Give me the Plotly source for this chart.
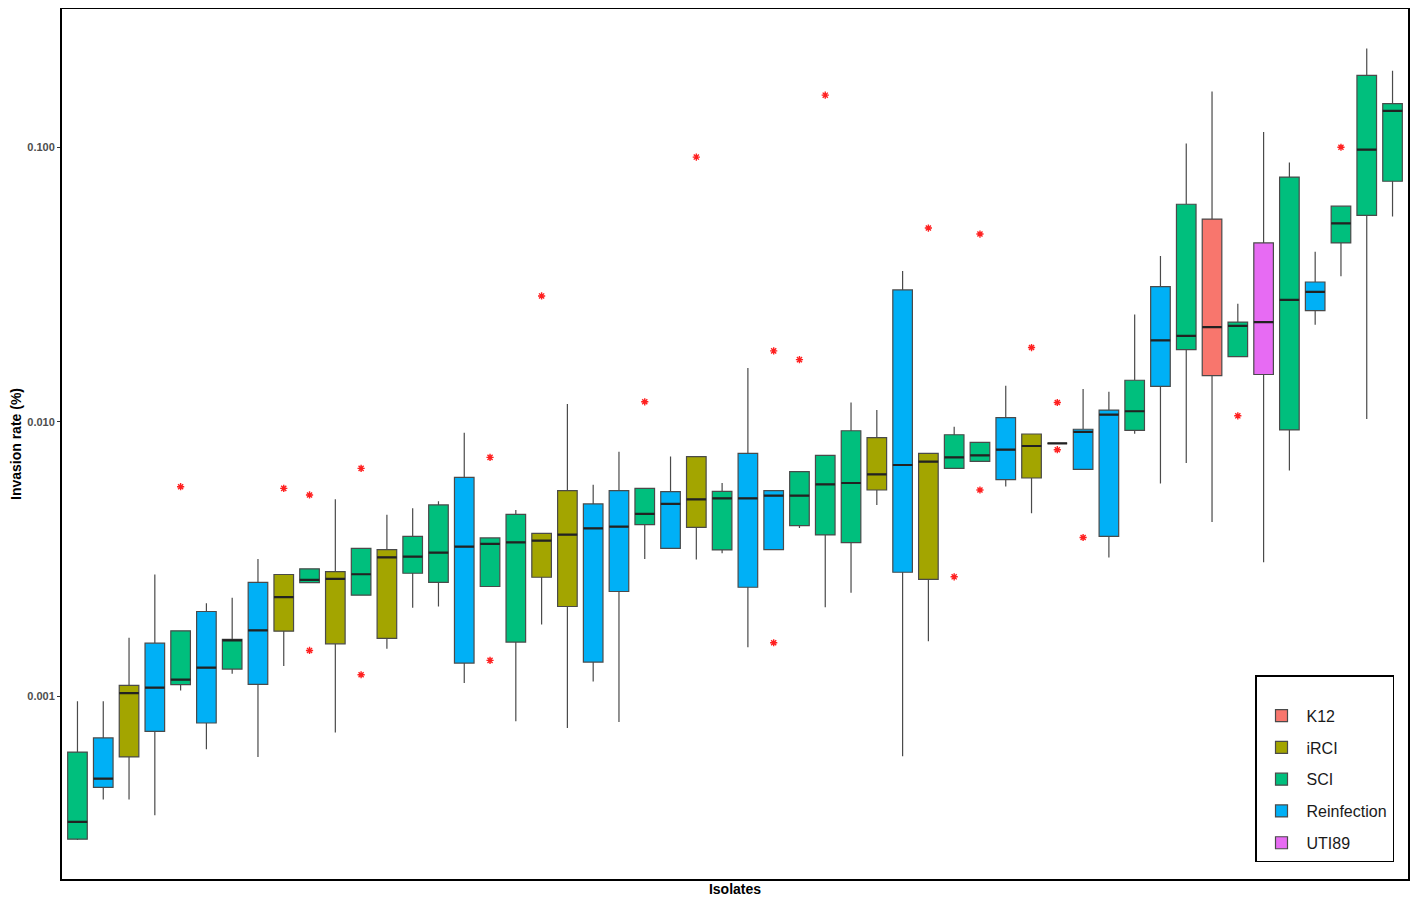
import plotly.graph_objects as go

# ---- data (one entry per isolate, ordered as drawn) ----
groups = ["SCI", "Reinfection", "iRCI", "Reinfection", "SCI", "Reinfection", "SCI", "Reinfection",
          "iRCI", "SCI", "iRCI", "SCI", "iRCI", "SCI", "SCI", "Reinfection", "SCI", "SCI", "iRCI",
          "iRCI", "Reinfection", "Reinfection", "SCI", "Reinfection", "iRCI", "SCI", "Reinfection",
          "Reinfection", "SCI", "SCI", "SCI", "iRCI", "Reinfection", "iRCI", "SCI", "SCI",
          "Reinfection", "iRCI", "SCI", "Reinfection", "Reinfection", "SCI", "Reinfection", "SCI",
          "K12", "SCI", "UTI89", "SCI", "Reinfection", "SCI", "SCI", "SCI"]

lower = [0.000300, 0.000421, 0.000421, 0.000369, 0.001051, 0.000642, 0.001209, 0.000602, 0.001289,
         0.002597, 0.000738, 0.002336, 0.001491, 0.002102, 0.002125, 0.001118, 0.002512, 0.000811,
         0.001827, 0.000767, 0.001134, 0.000806, 0.003167, 0.003461, 0.003149, 0.003319, 0.001511,
         0.003423, 0.004107, 0.002113, 0.002383, 0.004979, 0.000605, 0.001589, 0.006763, 0.007172,
         0.005816, 0.004640, 0.008339, 0.006706, 0.003207, 0.009046, 0.005955, 0.007083, 0.004319,
         0.017270, 0.003076, 0.006645, 0.022550, 0.033890, 0.010240, 0.055950]

q1 = [0.000302, 0.000466, 0.000602, 0.000746, 0.001103, 0.000800, 0.001257, 0.001105, 0.001728,
      0.002597, 0.001554, 0.002336, 0.001625, 0.002808, 0.002603, 0.001322, 0.002512, 0.001576,
      0.002715, 0.002125, 0.001333, 0.002409, 0.004220, 0.003461, 0.004127, 0.003415, 0.002497,
      0.003423, 0.004186, 0.003873, 0.003631, 0.005643, 0.002831, 0.002669, 0.006763, 0.007172,
      0.006152, 0.006241, 0.008339, 0.006706, 0.003827, 0.009305, 0.013450, 0.018300, 0.014720,
      0.017270, 0.014860, 0.009337, 0.025400, 0.044800, 0.056460, 0.075130]

median = [0.000349, 0.000502, 0.001028, 0.001076, 0.001150, 0.001272, 0.001598, 0.001738, 0.002297,
          0.002656, 0.002679, 0.002784, 0.003209, 0.003228, 0.003338, 0.003511, 0.003591, 0.003639,
          0.003693, 0.003882, 0.004093, 0.004152, 0.004618, 0.005021, 0.005218, 0.005261, 0.005261,
          0.005381, 0.005381, 0.005916, 0.005985, 0.006433, 0.006959, 0.007154, 0.007418, 0.007543,
          0.007912, 0.008160, 0.008339, 0.009188, 0.010610, 0.010920, 0.019770, 0.020550, 0.022120,
          0.022340, 0.023060, 0.027780, 0.029720, 0.052800, 0.098000, 0.135500]

q3 = [0.000627, 0.000706, 0.001096, 0.001562, 0.001733, 0.002037, 0.001612, 0.002603, 0.002778,
      0.002913, 0.002848, 0.003461, 0.003423, 0.003827, 0.004979, 0.006272, 0.003776, 0.004602,
      0.003925, 0.005610, 0.005021, 0.005610, 0.005720, 0.005564, 0.007460, 0.005578, 0.007670,
      0.005610, 0.006579, 0.007543, 0.009275, 0.008748, 0.030200, 0.007670, 0.008969, 0.008409,
      0.010360, 0.009023, 0.008339, 0.009390, 0.011030, 0.014160, 0.031070, 0.061940, 0.054690,
      0.023060, 0.044800, 0.077810, 0.032280, 0.060960, 0.182600, 0.144000]

upper = [0.000959, 0.000959, 0.001635, 0.002778, 0.001733, 0.002184, 0.002285, 0.003167, 0.002778,
         0.002913, 0.005218, 0.003461, 0.004590, 0.004839, 0.005131, 0.009120, 0.003776, 0.004775,
         0.003925, 0.011600, 0.005900, 0.007781, 0.005720, 0.007479, 0.007460, 0.005985, 0.015680,
         0.005610, 0.006579, 0.007543, 0.011750, 0.011030, 0.035400, 0.007670, 0.009590, 0.008409,
         0.013520, 0.009023, 0.008339, 0.013160, 0.012870, 0.024600, 0.040180, 0.103100, 0.159500,
         0.026910, 0.113600, 0.087900, 0.041620, 0.060960, 0.228700, 0.189700]

# outliers: isolate position (1-based) and value
outlier_pos = [5, 9, 10, 10, 12, 12, 17, 17, 19, 23, 25, 28, 28, 29, 30, 34, 35, 36, 36, 38,
               39, 39, 40, 46, 50]
outlier_val = [0.00580, 0.00572, 0.005413, 0.00147, 0.006763, 0.001199, 0.007418, 0.001352,
               0.02872, 0.01182, 0.0920, 0.01812, 0.001568, 0.01684, 0.1546, 0.05074, 0.002725,
               0.005643, 0.04826, 0.01863, 0.01175, 0.007912, 0.003789, 0.01051, 0.0999]

legend_order = ["K12", "iRCI", "SCI", "Reinfection", "UTI89"]
colors = {"K12": "#F8766D", "iRCI": "#A3A500", "SCI": "#00BF7D",
          "Reinfection": "#00B0F6", "UTI89": "#E76BF3"}

positions = list(range(1, len(groups) + 1))

fig = go.Figure()
for g in legend_order:
    idx = [i for i, gg in enumerate(groups) if gg == g]
    fig.add_trace(go.Box(
        name=g,
        legendgroup=g,
        x=[positions[i] for i in idx],
        q1=[q1[i] for i in idx],
        median=[median[i] for i in idx],
        q3=[q3[i] for i in idx],
        lowerfence=[lower[i] for i in idx],
        upperfence=[upper[i] for i in idx],
        fillcolor=colors[g],
        line=dict(color="#4a4a4a", width=1.2),
        whiskerwidth=0,
        width=0.76,
        boxpoints=False,
        hoverinfo="skip",
    ))

# darker, thicker median bars
fig.add_trace(go.Box(
    x=positions, q1=median, median=median, q3=median,
    lowerfence=median, upperfence=median,
    fillcolor="rgba(0,0,0,0)", line=dict(color="#222222", width=2.2),
    whiskerwidth=0, width=0.76, boxpoints=False, showlegend=False, hoverinfo="skip",
))

fig.add_trace(go.Scatter(
    x=outlier_pos, y=outlier_val, mode="markers", showlegend=False, hoverinfo="skip",
    marker=dict(symbol="asterisk-open", size=6, color="#FF2020",
                line=dict(color="#FF2020", width=1.4)),
))

# the page body has an 8px margin, so the figure is sized to fit the 1418x905 window
fig.update_layout(
    width=1402, height=889,
    margin=dict(l=54, r=2, t=1, b=18),
    paper_bgcolor="white", plot_bgcolor="white",
    boxmode="overlay",
    font=dict(family="Liberation Sans, Arial, sans-serif", color="#000000"),
    showlegend=True,
    legend=dict(
        x=0.9896, y=0.0195, xanchor="right", yanchor="bottom",
        bgcolor="white", bordercolor="#000000", borderwidth=1.5,
        font=dict(size=16, color="#1a1a1a"),
        title=dict(text=" ", font=dict(size=17)),
        tracegroupgap=8,
        traceorder="grouped",
        itemwidth=40,
    ),
    xaxis=dict(
        range=[0.4, 52.6], showticklabels=False, ticks="", showgrid=False, zeroline=False,
        showline=True, linecolor="#000000", linewidth=2, mirror=True,
        automargin=False,
        title=dict(text="<b>Isolates</b>", font=dict(size=14), standoff=10),
    ),
    yaxis=dict(
        type="log", range=[-3.665, -0.497],
        tickvals=[0.001, 0.01, 0.1], ticktext=["<b>0.001</b>", "<b>0.010</b>", "<b>0.100</b>"],
        ticks="outside", ticklen=3, tickcolor="#333333",
        tickfont=dict(size=11, color="#4d4d4d"),
        showgrid=False, zeroline=False,
        showline=True, linecolor="#000000", linewidth=2, mirror=True,
        automargin=False,
        title=dict(text="<b>Invasion rate (%)</b>", font=dict(size=14), standoff=8),
    ),
)

fig.write_html("out.html")
